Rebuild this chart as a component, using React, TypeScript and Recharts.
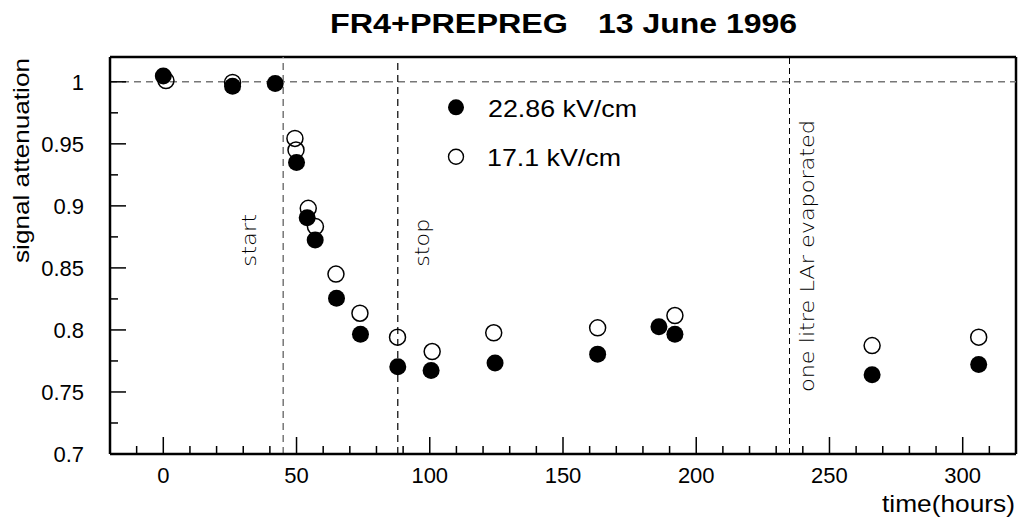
import React from 'react';
import { ScatterChart, Scatter, XAxis, YAxis, ReferenceLine, Legend } from 'recharts';

// Series names
const highFieldName = '22.86 kV/cm';
const lowFieldName = '17.1 kV/cm';

// 22.86 kV/cm run: time (hours) and signal attenuation
const highFieldHours = [0, 26, 42, 50, 54, 57, 65, 74, 88, 100.5, 124.5, 163, 186, 192, 266, 306];
const highFieldSignal = [
  1.0046, 0.9965, 0.9987, 0.935, 0.8905, 0.8725, 0.8256, 0.7966, 0.7703, 0.7673, 0.7733, 0.7805,
  0.8025, 0.7966, 0.7638, 0.7721,
];

// 17.1 kV/cm run: time (hours) and signal attenuation
const lowFieldHours = [1, 26, 49.4, 49.8, 54.4, 57.1, 64.8, 73.8, 87.9, 100.9, 124, 163, 192, 266, 306];
const lowFieldSignal = [
  1.001, 0.9995, 0.9544, 0.945, 0.898, 0.8833, 0.845, 0.8135, 0.7942, 0.7826, 0.7977, 0.8017,
  0.8116, 0.7874, 0.7942,
];

// Events marked on the time axis
const eventHours = [45, 88, 235];
const eventLabels = ['start', 'stop', 'one litre LAr evaporated'];

// Axis ticks
const xTicks = [
  -20, -10, 0, 10, 20, 30, 40, 50, 60, 70, 80, 90, 100, 110, 120, 130, 140, 150, 160, 170, 180,
  190, 200, 210, 220, 230, 240, 250, 260, 270, 280, 290, 300, 310, 320,
];
const xMajorTicks = [0, 50, 100, 150, 200, 250, 300];
const yTicks = [0.7, 0.725, 0.75, 0.775, 0.8, 0.825, 0.85, 0.875, 0.9, 0.925, 0.95, 0.975, 1];
const yMajorTicks = [0.7, 0.75, 0.8, 0.85, 0.9, 0.95, 1];
const yTickLabels = ['0.7', '0.75', '0.8', '0.85', '0.9', '0.95', '1'];

const xDomain = [-20, 320];
const yDomain = [0.7, 1.02];

const titleLeft = 'FR4+PREPREG';
const titleRight = '13 June 1996';
const xTitle = 'time(hours)';
const yTitle = 'signal attenuation';

const highFieldData = highFieldHours.map((t, i) => ({ t, v: highFieldSignal[i] }));
const lowFieldData = lowFieldHours.map((t, i) => ({ t, v: lowFieldSignal[i] }));

const SANS = '"Liberation Sans", Arial, Helvetica, sans-serif';
const THIN = '"DejaVu Sans", sans-serif';

const XTick = (props: any) => {
  const { x, y, payload } = props;
  const v = payload.value;
  const major = xMajorTicks.includes(v);
  return (
    <g>
      <line x1={x} x2={x} y1={y} y2={y - (major ? 17 : 8)} stroke="#000" strokeWidth={1.5} />
      {major ? (
        <text x={x} y={y + 29} textAnchor="middle" fontFamily={SANS} fontSize={22} fill="#000">
          {v}
        </text>
      ) : null}
    </g>
  );
};

const YTick = (props: any) => {
  const { x, y, payload } = props;
  const v = payload.value;
  const idx = yMajorTicks.findIndex((m) => Math.abs(m - v) < 1e-9);
  const major = idx >= 0;
  return (
    <g>
      <line x1={x} x2={x + (major ? 16 : 8)} y1={y} y2={y} stroke="#000" strokeWidth={1.5} />
      {major ? (
        <text x={x - 26} y={y + 8} textAnchor="end" fontFamily={SANS} fontSize={22} fill="#000">
          {yTickLabels[idx]}
        </text>
      ) : null}
    </g>
  );
};

const FilledDot = (props: any) => <circle cx={props.cx} cy={props.cy} r={8.5} fill="#000" />;
const OpenDot = (props: any) => (
  <circle cx={props.cx} cy={props.cy} r={8} fill="none" stroke="#000" strokeWidth={1.5} />
);

// Rotated annotation beside a vertical marker line
const eventLabel = (text: string, dx: number, dy: number, length: number) => (props: any) => {
  const vb = props.viewBox || {};
  const bx = vb.x + dx;
  const by = vb.y + dy;
  return (
    <text
      x={bx}
      y={by}
      transform={`rotate(-90 ${bx} ${by})`}
      textAnchor="start"
      fontFamily={THIN}
      fontWeight={200}
      fontSize={20}
      fill="#000"
      textLength={length}
      lengthAdjust="spacingAndGlyphs"
    >
      {text}
    </text>
  );
};

const legendOrder = [highFieldName, lowFieldName];

const LegendBox = (props: any) => {
  const items = [...(props.payload || [])].sort(
    (a: any, b: any) => legendOrder.indexOf(a.value) - legendOrder.indexOf(b.value)
  );
  return (
    <svg width={220} height={95} style={{ display: 'block' }}>
      {items.map((it: any, i: number) => {
        const filled = it.value === highFieldName;
        const cy = 19.3 + i * 49.4;
        return (
          <g key={it.value}>
            {filled ? (
              <circle cx={16} cy={cy} r={8} fill="#000" />
            ) : (
              <circle cx={16} cy={cy} r={7.5} fill="none" stroke="#000" strokeWidth={1.4} />
            )}
            <text
              x={filled ? 48 : 47}
              y={cy + 9.4}
              fontFamily={SANS}
              fontSize={24}
              fill="#000"
              textLength={filled ? 149 : 134}
              lengthAdjust="spacingAndGlyphs"
            >
              {it.value}
            </text>
          </g>
        );
      })}
    </svg>
  );
};

const YTitle = (props: any) => {
  const vb = props.viewBox || {};
  const x = vb.x + 29;
  const y = vb.y + 103.5;
  return (
    <text
      x={x}
      y={y}
      transform={`rotate(-90 ${x} ${y})`}
      textAnchor="middle"
      fontFamily={SANS}
      fontSize={22}
      fill="#000"
      textLength={205}
      lengthAdjust="spacingAndGlyphs"
    >
      {yTitle}
    </text>
  );
};

const XTitle = (props: any) => {
  const vb = props.viewBox || {};
  return (
    <text
      x={vb.x + vb.width - 1}
      y={vb.y + 58}
      textAnchor="end"
      fontFamily={SANS}
      fontSize={24}
      fill="#000"
      textLength={133}
      lengthAdjust="spacingAndGlyphs"
    >
      {xTitle}
    </text>
  );
};

export default function App() {
  return (
    <div style={{ position: 'fixed', left: 0, top: 0, width: 1020, height: 525, background: '#fff' }}>
      <svg
        width={1020}
        height={50}
        style={{ position: 'absolute', left: 0, top: 0, pointerEvents: 'none', zIndex: 2 }}
      >
        <text
          x={330}
          y={33}
          fontFamily={SANS}
          fontWeight={700}
          fontSize={27}
          fill="#000"
          textLength={238}
          lengthAdjust="spacingAndGlyphs"
        >
          {titleLeft}
        </text>
        <text
          x={797}
          y={33}
          textAnchor="end"
          fontFamily={SANS}
          fontWeight={700}
          fontSize={27}
          fill="#000"
          textLength={199}
          lengthAdjust="spacingAndGlyphs"
        >
          {titleRight}
        </text>
      </svg>
      <ScatterChart width={1020} height={525} margin={{ top: 57, right: 4, bottom: 0, left: 0 }}>
        <XAxis
          type="number"
          dataKey="t"
          domain={xDomain}
          ticks={xTicks}
          interval={0}
          allowDataOverflow
          axisLine={{ stroke: '#000', strokeWidth: 2.5 }}
          tickLine={false}
          tickSize={0}
          tickMargin={0}
          height={71}
          tick={<XTick />}
          label={{ content: <XTitle /> }}
        />
        <YAxis
          type="number"
          dataKey="v"
          domain={yDomain}
          ticks={yTicks}
          interval={0}
          allowDataOverflow
          axisLine={{ stroke: '#000', strokeWidth: 2.5 }}
          tickLine={false}
          tickSize={0}
          tickMargin={0}
          width={110}
          tick={<YTick />}
          label={{ content: <YTitle /> }}
        />
        {/* top and right edges of the frame */}
        <ReferenceLine x={xDomain[1]} stroke="#000" strokeWidth={2.5} ifOverflow="visible" />
        <ReferenceLine y={yDomain[1]} stroke="#000" strokeWidth={2.5} ifOverflow="visible" />
        <ReferenceLine y={1} stroke="#777" strokeWidth={1.5} strokeDasharray="7 5" />
        <ReferenceLine
          x={eventHours[0]}
          stroke="#777"
          strokeWidth={1.5}
          strokeDasharray="7 5"
          label={{ content: eventLabel(eventLabels[0], -27, 209.7, 53) }}
        />
        <ReferenceLine
          x={eventHours[1]}
          stroke="#000"
          strokeWidth={1.2}
          strokeDasharray="7 5"
          label={{ content: eventLabel(eventLabels[1], 31, 209.7, 48) }}
        />
        <ReferenceLine
          x={eventHours[2]}
          stroke="#000"
          strokeWidth={1}
          strokeDasharray="6 4"
          label={{ content: eventLabel(eventLabels[2], 24.5, 335, 272) }}
        />
        <Scatter
          name={lowFieldName}
          data={lowFieldData}
          shape={<OpenDot />}
          fill="#000"
          isAnimationActive={false}
        />
        <Scatter
          name={highFieldName}
          data={highFieldData}
          shape={<FilledDot />}
          fill="#000"
          isAnimationActive={false}
        />
        <Legend
          layout="vertical"
          align="center"
          verticalAlign="middle"
          wrapperStyle={{ left: 440, top: 88, width: 220, height: 95 }}
          content={<LegendBox />}
        />
      </ScatterChart>
    </div>
  );
}
